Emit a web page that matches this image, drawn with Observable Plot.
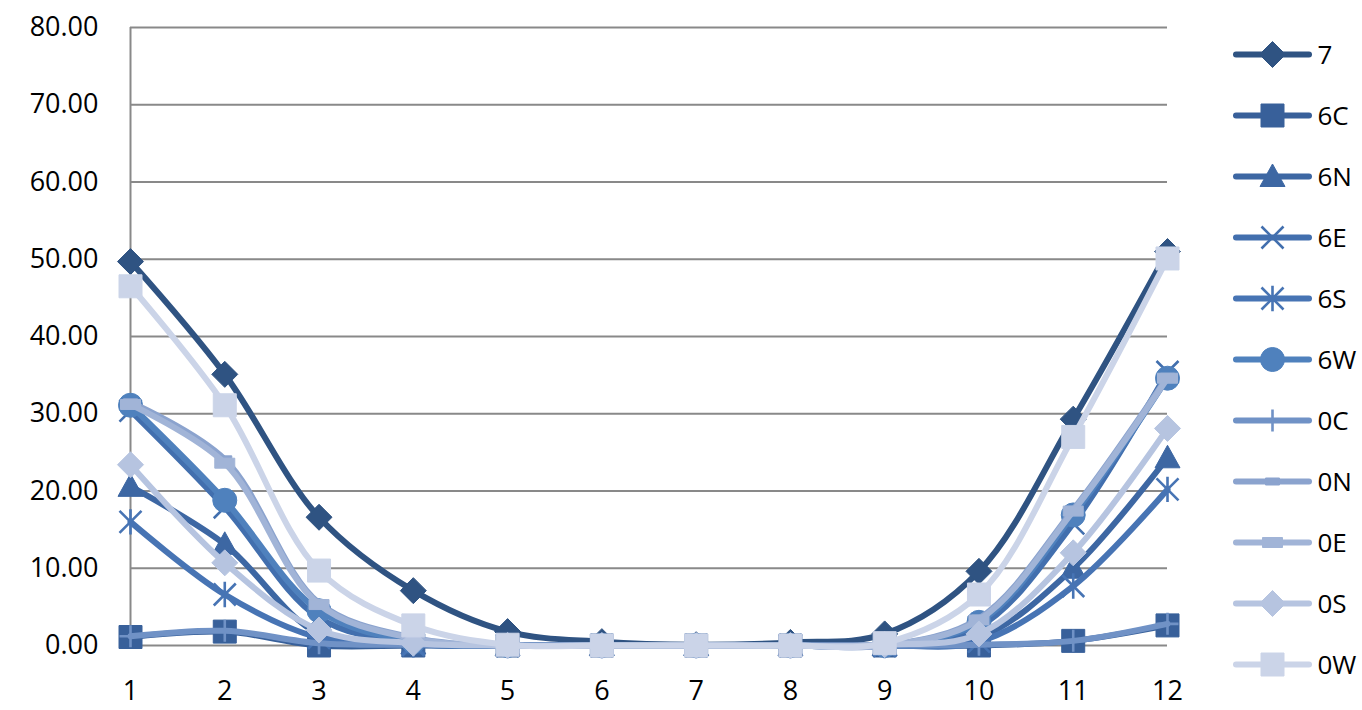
<!DOCTYPE html>
<html>
<head>
<meta charset="utf-8">
<script src="https://cdn.jsdelivr.net/npm/d3@7"></script>
<script src="https://cdn.jsdelivr.net/npm/@observablehq/plot@0.6"></script>
<style>
  html, body { margin: 0; padding: 0; background: #fff; }
  #wrap { position: relative; width: 1362px; height: 710px; font-family: "Open Sans", sans-serif; }
  #legend { position: absolute; left: 1225px; top: 0; }
</style>
</head>
<body>
<div id="wrap"><div id="main"></div><div id="legend"></div></div>
<script>
const months = [1, 2, 3, 4, 5, 6, 7, 8, 9, 10, 11, 12];
const yTicks = [0, 10, 20, 30, 40, 50, 60, 70, 80];
const seriesNames = ["7", "6C", "6N", "6E", "6S", "6W", "0C", "0N", "0E", "0S", "0W"];

const s7  = [49.7, 35.1, 16.6, 7.1, 1.8, 0.5, 0.1, 0.4, 1.5, 9.6, 29.3, 51.0];
const s6C = [1.1, 1.8, 0, 0, 0, 0, 0, 0, 0, 0, 0.6, 2.6];
const s6N = [20.6, 13.1, 1.5, 0.2, 0, 0, 0, 0, 0, 1.0, 10.0, 24.3];
const s6E = [30.4, 17.9, 3.6, 0.3, 0, 0, 0, 0, 0, 2.4, 15.8, 35.4];
const s6S = [16.0, 6.6, 1.0, 0.1, 0, 0, 0, 0, 0, 0.5, 7.7, 20.2];
const s6W = [31.1, 18.8, 4.5, 0.5, 0, 0, 0, 0, 0, 3.0, 16.9, 34.6];
const s0C = [1.2, 1.9, 0.3, 0.1, 0, 0, 0, 0, 0, 0.1, 0.6, 2.8];
const s0N = [31.5, 24.1, 5.5, 1.0, 0, 0, 0, 0, 0, 3.5, 17.6, 34.8];
const s0E = [31.2, 23.6, 5.3, 0.9, 0, 0, 0, 0, 0, 3.3, 17.4, 34.6];
const s0S = [23.4, 10.7, 2.0, 0.3, 0, 0, 0, 0, 0.1, 1.5, 12.0, 28.1];
const s0W = [46.5, 31.1, 9.7, 2.6, 0.1, 0, 0, 0, 0.3, 6.6, 27.0, 50.1];

const seriesValues = [s7, s6C, s6N, s6E, s6S, s6W, s0C, s0N, s0E, s0S, s0W];
const seriesColors = ["#2F5382", "#38609A", "#3D67A3", "#426FAE", "#4774B4", "#4F81BD",
                      "#7092C6", "#8BA3CE", "#A1B4D7", "#B6C4E0", "#CBD4E8"];

// custom marker shapes (r = half width)
const mk = f => ({draw(ctx, size) { const r = Math.sqrt(size / Math.PI); f(ctx, r); }});
const symDiamond = mk((c, r) => { c.moveTo(0, -r); c.lineTo(r, 0); c.lineTo(0, r); c.lineTo(-r, 0); c.closePath(); });
const symSquare = mk((c, r) => { c.rect(-r, -r, 2 * r, 2 * r); });
const symTriangle = mk((c, r) => { c.moveTo(0, -r); c.lineTo(r, r * 0.8); c.lineTo(-r, r * 0.8); c.closePath(); });
const symTimes = mk((c, r) => { c.moveTo(-r, -r); c.lineTo(r, r); c.moveTo(-r, r); c.lineTo(r, -r); });
const symStar = mk((c, r) => { c.moveTo(-r, -r); c.lineTo(r, r); c.moveTo(-r, r); c.lineTo(r, -r); c.moveTo(0, -r * 1.15); c.lineTo(0, r * 1.15); });
const symCircle = mk((c, r) => { c.moveTo(r, 0); c.arc(0, 0, r, 0, 2 * Math.PI); });
const symPlus = mk((c, r) => { c.moveTo(-r, 0); c.lineTo(r, 0); c.moveTo(0, -r); c.lineTo(0, r); });
const symDash = mk((c, r) => { c.rect(-r, -r * 0.5, 2 * r, r); });

const markers = [
  {symbol: symDiamond, r: 13, filled: true},
  {symbol: symSquare, r: 11.5, filled: true},
  {symbol: symTriangle, r: 12.5, filled: true},
  {symbol: symTimes, r: 11, filled: false},
  {symbol: symStar, r: 11, filled: false},
  {symbol: symCircle, r: 12, filled: true},
  {symbol: symPlus, r: 11, filled: false},
  {symbol: symDash, r: 7, filled: true},
  {symbol: symDash, r: 10, filled: true},
  {symbol: symDiamond, r: 13, filled: true},
  {symbol: symSquare, r: 11.5, filled: true}
];

const series = seriesNames.map((name, k) => ({
  name,
  color: seriesColors[k],
  marker: markers[k],
  rows: months.map((m, i) => ({series: name, month: m, value: seriesValues[k][i]}))
}));

const dotOpts = (s, extra) => s.marker.filled
  ? {symbol: s.marker.symbol, r: s.marker.r, fill: s.color, stroke: s.color, strokeWidth: 1, ...extra}
  : {symbol: s.marker.symbol, r: s.marker.r, fill: "none", stroke: s.color, strokeWidth: 2.6, ...extra};

const gray = "#898989";

const main = Plot.plot({
  width: 1362,
  height: 710,
  marginLeft: 130,
  marginRight: 195,
  marginTop: 27,
  marginBottom: 65,
  style: {fontFamily: "Open Sans, sans-serif", fontSize: "27px", color: "#000", background: "#fff"},
  x: {type: "linear", domain: [1, 12], label: null},
  y: {domain: [0, 80], label: null},
  marks: [
    Plot.gridY(yTicks, {stroke: gray, strokeOpacity: 1, strokeWidth: 2}),
    Plot.ruleX([1], {y1: 0, y2: 80, stroke: gray, strokeWidth: 2}),
    Plot.axisY(yTicks, {label: null, tickSize: 0, tickPadding: 32, tickFormat: d => d.toFixed(2), fontSize: 27, fill: "#000"}),
    Plot.axisX(months, {label: null, tickSize: 0, tickPadding: 35, tickFormat: d => String(d), fontSize: 27, fill: "#000"}),
    ...series.flatMap(s => [
      Plot.line(s.rows, {x: "month", y: "value", curve: "catmull-rom", stroke: s.color, strokeWidth: 6, strokeLinejoin: "round", strokeLinecap: "round"}),
      Plot.dot(s.rows, dotOpts(s, {x: "month", y: "value"}))
    ])
  ]
});
document.getElementById("main").appendChild(main);

const legend = Plot.plot({
  width: 137,
  height: 710,
  margin: 0,
  style: {fontFamily: "Open Sans, sans-serif", fontSize: "26px", color: "#000", background: "transparent"},
  x: {type: "linear", domain: [0, 137], range: [0, 137], axis: null},
  y: {type: "point", domain: seriesNames, range: [52, 665], padding: 0, axis: null},
  marks: [
    ...series.flatMap(s => [
      Plot.ruleY([s.name], {x1: 11, x2: 84, stroke: s.color, strokeWidth: 6, strokeLinecap: "round"}),
      Plot.dot([s.name], dotOpts(s, {x: 47, y: d => d}))
    ]),
    Plot.text(seriesNames, {x: 92, y: d => d, text: d => d, textAnchor: "start", fontSize: 26, fill: "#000", dy: 1})
  ]
});
document.getElementById("legend").appendChild(legend);
</script>
</body>
</html>
